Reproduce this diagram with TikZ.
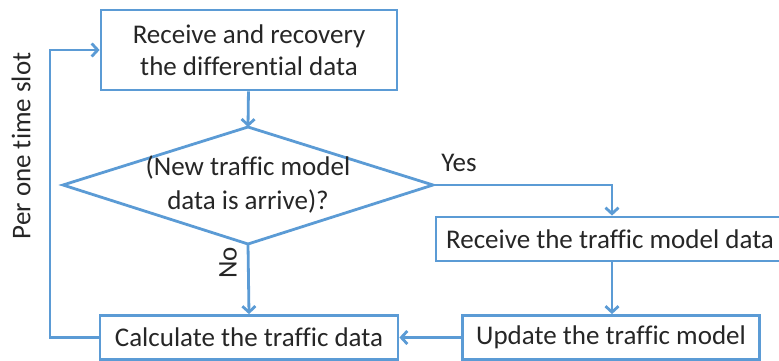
\documentclass[tikz,border=0pt]{standalone}
\usepackage{fontspec}
\setmainfont[Ligatures=NoCommon]{Carlito}
\usetikzlibrary{arrows.meta}
\definecolor{flowblue}{HTML}{5B9BD5}
\definecolor{txt}{HTML}{262626}
\tikzset{
  box/.style={draw=flowblue, line width=2.8pt, inner sep=0pt, align=center, text=txt, font=\fontsize{27}{32}\selectfont},
  dectext/.style={inner sep=0pt, align=center, text=txt, font=\fontsize{27}{34}\selectfont},
  decline/.style={draw=flowblue, line width=2.8pt, line join=miter},
  flow/.style={draw=flowblue, line width=2.8pt, -{Straight Barb[length=6pt,width=13pt,line width=2.8pt]}},
  lbl/.style={text=txt, inner sep=0pt, font=\fontsize{27}{32}\selectfont}
}
\begin{document}
\begin{tikzpicture}[x=1pt,y=-1pt]
\useasboundingbox (0,0) rectangle (779,361);
\node[box, minimum width=296pt, minimum height=80pt] (recv) at (249,50) {Receive and recovery\\the differential data};
\coordinate (dtop) at (248,127);
\coordinate (dbot) at (248,244);
\coordinate (dleft) at (63,185);
\coordinate (dright) at (433,185);
\draw[decline] (dtop) -- (dright) -- (dbot) -- (dleft) -- cycle;
\node[dectext] (dia) at (248,185) {(New traffic model\\data is arrive)?};
\node[box, minimum width=352pt, minimum height=44pt] (model) at (612,239) {\hspace*{-4pt}Receive the traffic model data};
\node[box, minimum width=297pt, minimum height=44pt] (update) at (611,337.5) {Update the traffic model};
\node[box, minimum width=298pt, minimum height=44pt] (calc) at (249,337.5) {Calculate the traffic data};
\coordinate (loop) at (50,337.5);
\draw[flow] (recv) -- (dtop);
\draw[flow] (dright) -| (model.north);
\draw[flow] (model.south) -- (model.south |- update.north);
\draw[flow] (update) -- (calc);
\draw[flow] (dbot) -- (calc.north);
\draw[flow] (calc.west) -- (loop) |- (recv.west);
\node[lbl] (yes) at (459,163) {Yes};
\node[lbl, rotate=90] (no) at (228,263) {No};
\node[lbl, rotate=90] (per) at (21,146) {Per one time slot};
\end{tikzpicture}
\end{document}
